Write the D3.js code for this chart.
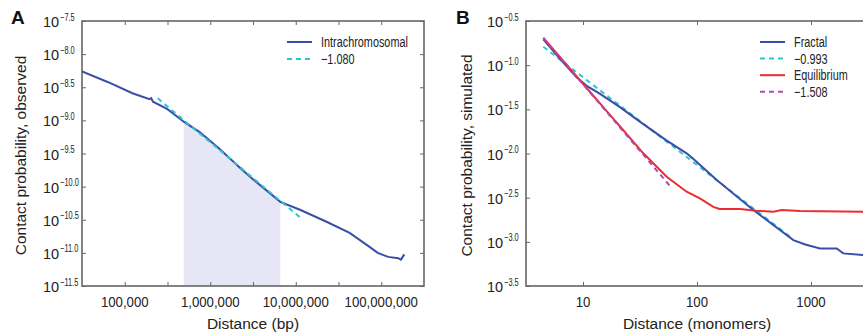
<!DOCTYPE html>
<html>
<head>
<meta charset="utf-8">
<script src="https://cdn.jsdelivr.net/npm/d3@7"></script>
<style>
  html, body { margin: 0; padding: 0; background: #fff; overflow: hidden; }
  svg { display: block; }
  .tick-label { font-family: "Liberation Sans", Arial, sans-serif; fill: #222; }
  .title { font-family: "Liberation Sans", Arial, sans-serif; fill: #222; font-size: 15.5px; }
  .legend { font-family: "Liberation Sans", Arial, sans-serif; fill: #222; font-size: 14.5px; }
  .panel { font-family: "Liberation Sans", Arial, sans-serif; font-weight: bold; font-size: 19px; fill: #111; }
</style>
</head>
<body>
<svg id="chart" width="863" height="334"></svg>
<script>
// ---------- Panel A data (observed) ----------
const intraDistance = [31623, 63096, 123000, 195000, 204000, 214000, 316000, 490000, 759000, 1260000, 2340000, 3160000, 6600000, 11200000, 22900000, 42700000, 67600000, 91000000, 120000000, 158000000, 170000000, 186000000];
const intraProb     = [5.5e-9, 3.8e-9, 2.57e-9, 2.09e-9, 2.16e-9, 1.91e-9, 1.48e-9, 9.55e-10, 6.6e-10, 3.8e-10, 1.82e-10, 1.29e-10, 5.9e-11, 4.47e-11, 2.95e-11, 2.0e-11, 1.32e-11, 1.0e-11, 8.7e-12, 8.3e-12, 7.9e-12, 9.5e-12];
const fitADistance = [243000, 11750000];
const fitAProb     = [2.15e-9, 3.27e-11];
const aLegendLabels = ["Intrachromosomal", "\u22121.080"];
const shadeRange = [490000, 6600000];
const aXTicks = [100000, 1000000, 10000000, 100000000];
const aXTickLabels = ["100,000", "1,000,000", "10,000,000", "100,000,000"];
const aYExponents = ["\u22127.5", "\u22128.0", "\u22128.5", "\u22129.0", "\u22129.5", "\u221210.0", "\u221210.5", "\u221211.0", "\u221211.5"];

// ---------- Panel B data (simulated) ----------
const fractalDistance = [4.49, 6.31, 8.69, 10.96, 13.9, 20.8, 33.1, 53.5, 81.1, 91.6, 149, 312, 700, 891, 1199, 1679, 1919, 2858];
const fractalProb     = [0.1963, 0.1175, 0.0740, 0.0575, 0.0480, 0.0339, 0.02193, 0.01419, 0.01005, 0.00881, 0.00501, 0.00229, 0.001047, 0.000933, 0.000843, 0.000843, 0.00074, 0.000708];
const equilDistance = [4.49, 8.69, 17.0, 22.0, 33.8, 54.2, 81.1, 106, 139, 158, 238, 333, 467, 553, 802, 2858];
const equilProb     = [0.204, 0.0759, 0.0279, 0.01905, 0.01005, 0.00546, 0.00369, 0.0031, 0.00249, 0.00235, 0.00235, 0.00225, 0.00219, 0.00229, 0.00224, 0.00219];
const fitFractalDistance = [4.49, 676];
const fitFractalProb     = [0.1618, 0.00111];
const fitEquilDistance = [4.49, 60];
const fitEquilProb     = [0.204, 0.00407];
const bLegendLabels = ["Fractal", "\u22120.993", "Equilibrium", "\u22121.508"];
const bXTicks = [10, 100, 1000];
const bXTickLabels = ["10", "100", "1000"];
const bYExponents = ["\u22120.5", "\u22121.0", "\u22121.5", "\u22122.0", "\u22122.5", "\u22123.0", "\u22123.5"];

const colors = { blue: "#3a4ea8", cyan: "#2cc6cc", red: "#ee2b2f", magenta: "#b246b4", shade: "#e6e6f6", frame: "#666" };

const svg = d3.select("#chart");

function yTickValues(exps) {
  return exps.map(e => Math.pow(10, parseFloat(e.replace("\u2212", "-"))));
}

function drawPanel(cfg) {
  const g = svg.append("g");
  const x = d3.scaleLog().domain(cfg.xDomain).range([cfg.left, cfg.right]);
  const y = d3.scaleLog().domain(cfg.yDomain).range([cfg.bottom, cfg.top]);
  const clipId = "clip" + cfg.name;
  svg.append("clipPath").attr("id", clipId).append("rect")
    .attr("x", cfg.left).attr("y", cfg.top).attr("width", cfg.right - cfg.left).attr("height", cfg.bottom - cfg.top);

  // axes (ticks inward)
  const yVals = yTickValues(cfg.yExps);
  const xAxisB = d3.axisBottom(x).tickValues(cfg.xTickMarks).tickSize(-4).tickFormat("");
  const xAxisT = d3.axisTop(x).tickValues(cfg.xTickMarks).tickSize(-4).tickFormat("");
  const yAxisL = d3.axisLeft(y).tickValues(yVals).tickSize(-4).tickFormat("");
  const yAxisR = d3.axisRight(y).tickValues(yVals).tickSize(-4).tickFormat("");
  [[xAxisB, `translate(0,${cfg.bottom})`], [xAxisT, `translate(0,${cfg.top})`],
   [yAxisL, `translate(${cfg.left},0)`], [yAxisR, `translate(${cfg.right},0)`]].forEach(([ax, tr]) => {
    const a = g.append("g").attr("transform", tr).call(ax);
    a.select(".domain").remove();
    a.selectAll("line").attr("stroke", colors.frame).attr("stroke-width", 1);
  });

  // x tick labels (slightly condensed)
  g.append("g").selectAll("text").data(cfg.xTicks).join("text")
    .attr("class", "tick-label")
    .attr("transform", d => `translate(${x(d)},${cfg.bottom + 21}) scale(0.88,1)`)
    .attr("text-anchor", "middle").attr("font-size", 15)
    .text((d, i) => cfg.xTickLabels[i]);

  // y tick labels  10^exp, left-aligned
  const yg = g.append("g");
  yVals.forEach((v, i) => {
    const yy = y(v);
    const base = yg.append("text").attr("class", "tick-label")
      .attr("x", cfg.left - 39).attr("y", yy + 6).attr("font-size", 14.5).text("10");
    const w = base.node().getComputedTextLength();
    yg.append("text").attr("class", "tick-label")
      .attr("transform", `translate(${cfg.left - 39 + w + 1},${yy - 0.5}) scale(0.74,1)`)
      .attr("font-size", 10).text(cfg.yExps[i]);
  });

  // frame
  g.append("rect").attr("x", cfg.left).attr("y", cfg.top)
    .attr("width", cfg.right - cfg.left).attr("height", cfg.bottom - cfg.top)
    .attr("fill", "none").attr("stroke", colors.frame).attr("stroke-width", 1.6);

  // titles
  g.append("text").attr("class", "title").attr("text-anchor", "middle")
    .attr("x", cfg.xTitleX).attr("y", 329).text(cfg.xTitle);
  g.append("text").attr("class", "title").attr("text-anchor", "middle")
    .attr("transform", `translate(${cfg.yTitleX},${(cfg.top + cfg.bottom) / 2 + 2}) rotate(-90)`)
    .text(cfg.yTitle);
  g.append("text").attr("class", "panel").attr("x", cfg.panelX).attr("y", 24).text(cfg.name);

  return { g, x, y, clipId };
}

function drawLegend(g, labels, styles, x0, y0, dy) {
  labels.forEach((lab, i) => {
    const yy = y0 + i * dy;
    g.append("line").attr("x1", x0).attr("x2", x0 + 25).attr("y1", yy).attr("y2", yy)
      .attr("stroke", styles[i][0]).attr("stroke-width", 2).attr("stroke-dasharray", styles[i][1]);
    g.append("text").attr("class", "legend")
      .attr("transform", `translate(${x0 + 34},${yy + 5}) scale(0.75,1)`).text(lab);
  });
}

// ---------- Panel A ----------
const A = drawPanel({
  name: "A", xDomain: [Math.pow(10, 4.5), Math.pow(10, 8.5)], yDomain: [Math.pow(10, -11.5), Math.pow(10, -7.5)],
  left: 82, right: 424, top: 21, bottom: 286,
  xTicks: aXTicks, xTickLabels: aXTickLabels,
  xTickMarks: d3.range(9).map(i => Math.pow(10, 4.5 + i * 0.5)).slice(1, 8),
  yExps: aYExponents, xTitle: "Distance (bp)", xTitleX: 253, yTitle: "Contact probability, observed", yTitleX: 26, panelX: 11
});
{
  const { g, x, y, clipId } = A;
  const pts = intraDistance.map((d, i) => [d, intraProb[i]]);
  const shadeClip = "shadeClipA";
  svg.append("clipPath").attr("id", shadeClip).append("rect")
    .attr("x", x(shadeRange[0])).attr("y", 21).attr("width", x(shadeRange[1]) - x(shadeRange[0])).attr("height", 265);
  g.insert("path", ":first-child").datum(pts)
    .attr("clip-path", `url(#${shadeClip})`)
    .attr("fill", colors.shade)
    .attr("d", d3.area().x(d => x(d[0])).y0(286).y1(d => y(d[1])));
  g.append("path").datum(pts).attr("clip-path", `url(#${clipId})`)
    .attr("fill", "none").attr("stroke", colors.blue).attr("stroke-width", 2)
    .attr("d", d3.line().x(d => x(d[0])).y(d => y(d[1])));
  g.append("path").datum(fitADistance.map((d, i) => [d, fitAProb[i]]))
    .attr("fill", "none").attr("stroke", colors.cyan).attr("stroke-width", 2).attr("stroke-dasharray", "5,4")
    .attr("d", d3.line().x(d => x(d[0])).y(d => y(d[1])));
  drawLegend(g, aLegendLabels, [[colors.blue, null], [colors.cyan, "5,4"]], 287, 42, 17);
}

// ---------- Panel B ----------
const B = drawPanel({
  name: "B", xDomain: [Math.pow(10, 0.5), Math.pow(10, 4)], yDomain: [Math.pow(10, -3.5), Math.pow(10, -0.5)],
  left: 526, right: 925, top: 21, bottom: 286,
  xTicks: bXTicks, xTickLabels: bXTickLabels, xTickMarks: bXTicks,
  yExps: bYExponents, xTitle: "Distance (monomers)", xTitleX: 697, yTitle: "Contact probability, simulated", yTitleX: 472, panelX: 456
});
{
  const { g, x, y, clipId } = B;
  const line = d3.line().x(d => x(d[0])).y(d => y(d[1]));
  const series = [
    [fitFractalDistance, fitFractalProb, colors.cyan, "5,4"],
    [fractalDistance, fractalProb, colors.blue, null],
    [equilDistance, equilProb, colors.red, null],
    [fitEquilDistance, fitEquilProb, colors.magenta, "5,4"]
  ];
  series.forEach(s => {
    g.append("path").datum(s[0].map((d, i) => [d, s[1][i]])).attr("clip-path", `url(#${clipId})`)
      .attr("fill", "none").attr("stroke", s[2]).attr("stroke-width", 2).attr("stroke-dasharray", s[3])
      .attr("d", line);
  });
  drawLegend(g, bLegendLabels, [[colors.blue, null], [colors.cyan, "5,4"], [colors.red, null], [colors.magenta, "5,4"]], 760, 42, 16.6);
}
</script>
</body>
</html>
